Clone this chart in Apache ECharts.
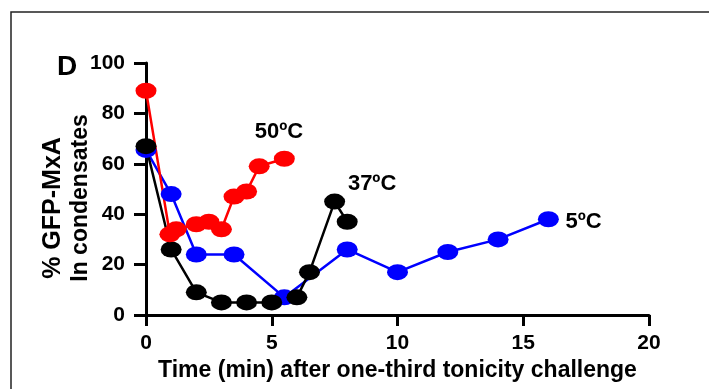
<!DOCTYPE html>
<html>
<head>
<meta charset="utf-8">
<script src="https://cdn.jsdelivr.net/npm/echarts@6/dist/echarts.min.js"></script>
<style>html,body{margin:0;padding:0;background:#fff}#c{width:709px;height:389px}</style>
</head>
<body>
<div id="c"></div>
<script>
// Data
var xTicks = [0, 5, 10, 15, 20];
var yTicks = [0, 20, 40, 60, 80, 100];
var blue5C = [[0,65.5],[1,48],[2,24],[3.5,24],[5.5,7],[8,26],[10,17],[12,25],[14,30],[16,38]];
var black37C = [[0,67],[1,26],[2,9],[3,5],[4,5],[5,5],[6,7],[6.5,17],[7.5,45],[8,37]];
var red50C = [[0,89],[0.95,32],[1.2,34],[2,36],[2.5,37],[3,34],[3.5,47],[4,49],[4.5,59],[5.5,62]];
var seriesLabels = [
  {text: '50ºC', x: 5.29, y: 72.6},
  {text: '37ºC', x: 8.99, y: 52},
  {text: '5ºC', x: 17.4, y: 36.9}
];
var panelLetter = 'D';
var xTitle = 'Time (min) after one-third tonicity challenge';
var yTitle1 = '% GFP-MxA';
var yTitle2 = 'In condensates';

var FONT = '"Liberation Sans", Arial, Helvetica, sans-serif';
var chart = echarts.init(document.getElementById('c'), null, {renderer: 'canvas'});

function mkSeries(name, data, color) {
  return {
    name: name, type: 'line', data: data,
    symbol: 'circle', symbolSize: [21, 16],
    showAllSymbol: true,
    lineStyle: {color: color, width: 2.5},
    itemStyle: {color: color},
    animation: false, z: 3
  };
}

var option = {
  animation: false,
  backgroundColor: '#fff',
  grid: {left: 146, right: 60, top: 63, bottom: 74},
  xAxis: {
    type: 'value', min: 0, max: 20, interval: 5,
    name: xTitle, nameLocation: 'middle', nameGap: 41,
    nameTextStyle: {fontFamily: FONT, fontWeight: 'bold', fontSize: 23, color: '#000'},
    axisLine: {show: true, onZero: false, lineStyle: {color: '#000', width: 3}},
    axisTick: {show: true, length: 11, lineStyle: {color: '#000', width: 3}},
    axisLabel: {margin: 18, fontFamily: FONT, fontWeight: 'bold', fontSize: 21, color: '#000',
      formatter: function(v){ return xTicks.indexOf(v) >= 0 ? String(v) : ''; }},
    splitLine: {show: false}
  },
  yAxis: {
    type: 'value', min: 0, max: 100, interval: 20,
    axisLine: {show: true, onZero: false, lineStyle: {color: '#000', width: 3}},
    axisTick: {show: true, length: 12, lineStyle: {color: '#000', width: 3}},
    axisLabel: {margin: 21, fontFamily: FONT, fontWeight: 'bold', fontSize: 21, color: '#000',
      formatter: function(v){ return yTicks.indexOf(v) >= 0 ? String(v) : ''; }},
    splitLine: {show: false}
  },
  series: [
    mkSeries('5ºC', blue5C, '#0000ff'),
    mkSeries('37ºC', black37C, '#000000'),
    mkSeries('50ºC', red50C, '#ff0000')
  ]
};
chart.setOption(option);

var g = [
  {type: 'rect', shape: {x: 11, y: 12, width: 760, height: 420},
   style: {fill: 'none', stroke: '#222', lineWidth: 1.5}, silent: true, z: 0},
  {type: 'text', x: 67, y: 67, style: {text: panelLetter, font: 'bold 28px ' + FONT,
   fill: '#000', align: 'center', verticalAlign: 'middle'}},
  {type: 'text', x: 53, y: 208, rotation: Math.PI / 2, style: {text: yTitle1,
   font: 'bold 25px ' + FONT, fill: '#000', align: 'center', verticalAlign: 'middle'}},
  {type: 'text', x: 81, y: 198, rotation: Math.PI / 2, style: {text: yTitle2,
   font: 'bold 23px ' + FONT, fill: '#000', align: 'center', verticalAlign: 'middle'}}
];
seriesLabels.forEach(function(l){
  var p = chart.convertToPixel({gridIndex: 0}, [l.x, l.y]);
  g.push({type: 'text', x: p[0], y: p[1], style: {text: l.text, font: 'bold 22px ' + FONT,
    fill: '#000', align: 'center', verticalAlign: 'middle'}});
});
chart.setOption({graphic: g});
</script>
</body>
</html>
